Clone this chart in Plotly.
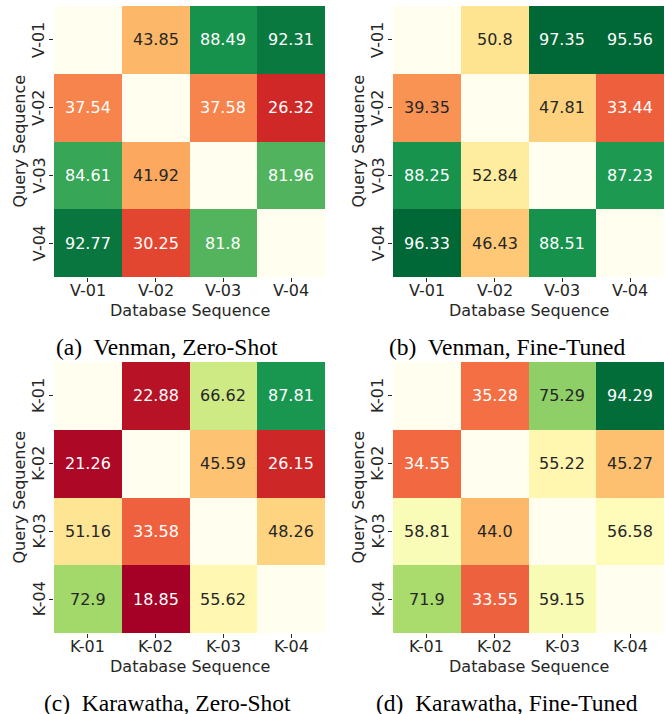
import math
import plotly.graph_objects as go

nan = float("nan")

venman_labels = ["V-01", "V-02", "V-03", "V-04"]
karawatha_labels = ["K-01", "K-02", "K-03", "K-04"]

venman_zero_shot = [
    [nan, 43.85, 88.49, 92.31],
    [37.54, nan, 37.58, 26.32],
    [84.61, 41.92, nan, 81.96],
    [92.77, 30.25, 81.8, nan],
]
venman_fine_tuned = [
    [nan, 50.8, 97.35, 95.56],
    [39.35, nan, 47.81, 33.44],
    [88.25, 52.84, nan, 87.23],
    [96.33, 46.43, 88.51, nan],
]
karawatha_zero_shot = [
    [nan, 22.88, 66.62, 87.81],
    [21.26, nan, 45.59, 26.15],
    [51.16, 33.58, nan, 48.26],
    [72.9, 18.85, 55.62, nan],
]
karawatha_fine_tuned = [
    [nan, 35.28, 75.29, 94.29],
    [34.55, nan, 55.22, 45.27],
    [58.81, 44.0, nan, 56.58],
    [71.9, 33.55, 59.15, nan],
]

captions = [
    "(a)  Venman, Zero-Shot",
    "(b)  Venman, Fine-Tuned",
    "(c)  Karawatha, Zero-Shot",
    "(d)  Karawatha, Fine-Tuned",
]

ZMIN, ZMAX = 20, 95
rdylgn = [(165, 0, 38), (215, 48, 39), (244, 109, 67), (253, 174, 97), (254, 224, 139),
          (255, 255, 191), (217, 239, 139), (166, 217, 106), (102, 189, 99), (26, 152, 80),
          (0, 104, 55)]
colorscale = [[i / 10, "rgb(%d,%d,%d)" % c] for i, c in enumerate(rdylgn)]


def color_at(v):
    t = min(max((v - ZMIN) / (ZMAX - ZMIN), 0), 1)
    p = t * 10
    i = min(int(p), 9)
    f = p - i
    a, b = rdylgn[i], rdylgn[i + 1]
    return [(a[k] + (b[k] - a[k]) * f) / 255 for k in range(3)]


def text_color(v):
    rgb = color_at(v)
    lin = [c / 12.92 if c <= 0.03928 else ((c + 0.055) / 1.055) ** 2.4 for c in rgb]
    lum = 0.2126 * lin[0] + 0.7152 * lin[1] + 0.0722 * lin[2]
    return "#262626" if lum > 0.408 else "white"


W, H = 665, 714
TXT = "#262626"
FONT = "DejaVu Sans"

panels = [
    (venman_zero_shot, venman_labels, 54, 325, 6, 277, 167),
    (venman_fine_tuned, venman_labels, 393, 664, 6, 277, 507),
    (karawatha_zero_shot, karawatha_labels, 54, 325, 362, 633, 167),
    (karawatha_fine_tuned, karawatha_labels, 393, 664, 362, 633, 507),
]

fig = go.Figure()
annotations = []
layout = {}
for idx, (z, labels, x0, x1, y0, y1, cap_x) in enumerate(panels):
    n = idx + 1
    xa = "x" if n == 1 else "x%d" % n
    ya = "y" if n == 1 else "y%d" % n
    fig.add_trace(go.Heatmap(
        z=z, x=labels, y=labels, xaxis=xa, yaxis=ya,
        colorscale=colorscale, zmin=ZMIN, zmax=ZMAX, showscale=False,
        hoverongaps=False,
    ))
    xk = "xaxis" if n == 1 else "xaxis%d" % n
    yk = "yaxis" if n == 1 else "yaxis%d" % n
    layout[xk] = dict(
        domain=[x0 / W, x1 / W], anchor=ya, type="category",
        range=[-0.5, 3.5], ticks="outside", ticklen=4, tickwidth=1,
        tickcolor=TXT, showgrid=False, zeroline=False, showline=False,
        showticklabels=False,
    )
    layout[yk] = dict(
        domain=[1 - y1 / H, 1 - y0 / H], anchor=xa, type="category",
        range=[3.5, -0.5], ticks="outside", ticklen=4, tickwidth=1,
        tickcolor=TXT, showgrid=False, zeroline=False, showline=False,
        showticklabels=False,
    )
    # tick labels
    for lab in labels:
        annotations.append(dict(
            x=lab, y=1 - (y1 + 13) / H, xref=xa, yref="paper", text=lab,
            showarrow=False, xanchor="center", yanchor="middle",
            font=dict(family=FONT, size=16, color=TXT),
        ))
        annotations.append(dict(
            x=(x0 - 15) / W, y=lab, xref="paper", yref=ya, text=lab,
            showarrow=False, xanchor="center", yanchor="middle", textangle=-90,
            font=dict(family=FONT, size=16, color=TXT),
        ))
    # cell labels
    for i, row in enumerate(z):
        for j, v in enumerate(row):
            if v != v:
                continue
            annotations.append(dict(
                x=labels[j], y=labels[i], xref=xa, yref=ya, text=str(v),
                showarrow=False, font=dict(family=FONT, size=16, color=text_color(v)),
            ))
    # axis titles
    annotations.append(dict(
        x=(x0 + x1) / 2 / W, y=1 - (y1 + 33) / H, xref="paper", yref="paper",
        text="Database Sequence", showarrow=False, xanchor="center", yanchor="middle",
        font=dict(family=FONT, size=16, color=TXT),
    ))
    annotations.append(dict(
        x=(x0 - 35) / W, y=1 - (y0 + y1) / 2 / H, xref="paper", yref="paper",
        text="Query Sequence", showarrow=False, textangle=-90,
        xanchor="center", yanchor="middle",
        font=dict(family=FONT, size=16, color=TXT),
    ))
    # caption
    annotations.append(dict(
        x=cap_x / W, y=1 - (y1 + 70) / H, xref="paper", yref="paper",
        text=captions[idx], showarrow=False, xanchor="center", yanchor="middle",
        font=dict(family="Liberation Serif", size=23.5, color="black"),
    ))

fig.update_layout(
    width=W, height=H, margin=dict(l=0, r=0, t=0, b=0),
    paper_bgcolor="white", plot_bgcolor="#FFFEEF",
    annotations=annotations, showlegend=False, **layout,
)
fig.write_html(
    "out.html",
    config={"displayModeBar": False},
    post_script="document.body.style.margin='0';document.body.style.padding='0';",
)
